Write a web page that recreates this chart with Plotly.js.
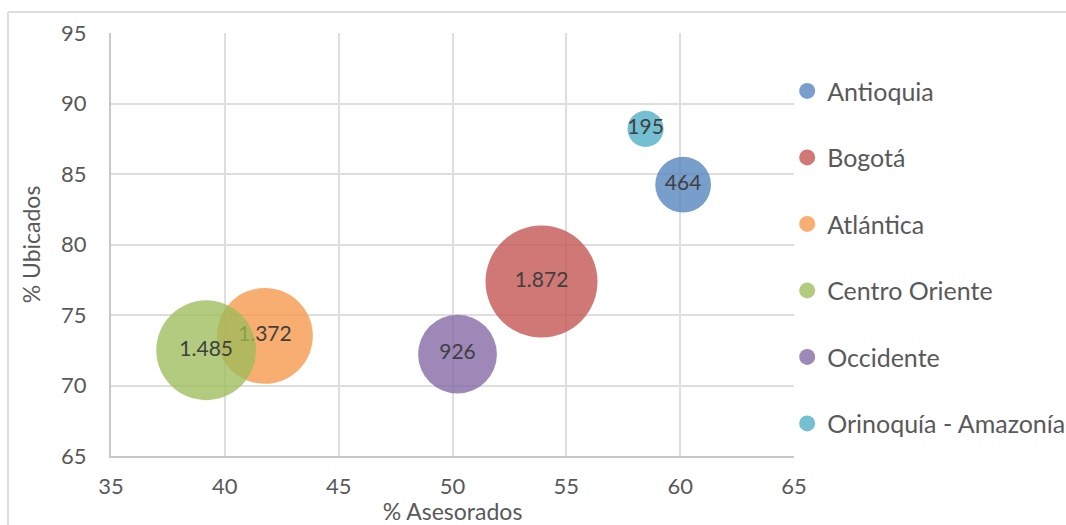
<!DOCTYPE html>
<html>
<head>
<meta charset="utf-8">
<script src="https://cdn.plot.ly/plotly-3.0.1.min.js"></script>
<style>html,body{margin:0;padding:0;background:#fff;}#chart{width:1066px;height:525px;}</style>
</head>
<body>
<div id="chart"></div>
<script>
// Data
const regions = ["Antioquia", "Bogotá", "Atlántica", "Centro Oriente", "Occidente", "Orinoquía - Amazonía"];
const asesorados = [60.13, 53.91, 41.76, 39.18, 50.22, 58.48];   // % Asesorados (x)
const ubicados   = [84.24, 77.37, 73.52, 72.50, 72.22, 88.20];   // % Ubicados (y)
const personas   = [464, 1872, 1372, 1485, 926, 195];            // bubble size
const colors = ["#4F81BD", "#C0504D", "#F79646", "#9BBB59", "#8064A2", "#4BACC6"];
const xTicks = [35, 40, 45, 50, 55, 60, 65];
const yTicks = [65, 70, 75, 80, 85, 90, 95];

function fmt(v) { return String(v).replace(/\B(?=(\d{3})+(?!\d))/g, "."); }

const FONT = "Lato, 'Open Sans', sans-serif";
const maxR = 56;
const sizeref = Math.max(...personas) / (2 * maxR * maxR);

const traces = regions.map((r, i) => ({
  type: "scatter",
  mode: "markers+text",
  name: r,
  legendgroup: "g" + i,
  x: [asesorados[i]],
  y: [ubicados[i]],
  text: [fmt(personas[i])],
  textposition: "middle center",
  textfont: { family: FONT, size: 21, color: "#404040" },
  marker: {
    size: [personas[i]],
    sizemode: "area",
    sizeref: sizeref,
    color: colors[i],
    opacity: 0.77,
    line: { width: 0 }
  },
  hoverinfo: "name+x+y"
}));

const layout = {
  width: 1066,
  height: 525,
  margin: { l: 111, r: 272, t: 33, b: 69, autoexpand: false },
  paper_bgcolor: "#ffffff",
  plot_bgcolor: "#ffffff",
  font: { family: FONT, color: "#595959" },
  showlegend: true,
  legend: {
    x: 0.99, xanchor: "left",
    y: 0.47, yanchor: "middle",
    font: { family: FONT, size: 25, color: "#595959" },
    tracegroupgap: 31,
    traceorder: "grouped",
    bgcolor: "rgba(0,0,0,0)"
  },
  xaxis: {
    range: [35, 65],
    tickvals: xTicks,
    ticktext: xTicks.map(String),
    showgrid: true, gridcolor: "#dedede", gridwidth: 2,
    showline: true, linecolor: "#c8c8c8", linewidth: 2,
    zeroline: false,
    ticks: "outside", ticklen: 10, tickcolor: "rgba(0,0,0,0)",
    tickfont: { family: FONT, size: 22, color: "#595959" },
    title: { text: "% Asesorados", font: { family: FONT, size: 23, color: "#595959" }, standoff: 2 }
  },
  yaxis: {
    range: [65, 95],
    tickvals: yTicks,
    ticktext: yTicks.map(String),
    showgrid: true, gridcolor: "#dedede", gridwidth: 2,
    showline: true, linecolor: "#c8c8c8", linewidth: 2,
    zeroline: false,
    ticks: "outside", ticklen: 18, tickcolor: "rgba(0,0,0,0)",
    tickfont: { family: FONT, size: 22, color: "#595959" },
    title: { text: "% Ubicados", font: { family: FONT, size: 23, color: "#595959" }, standoff: 14 }
  },
  shapes: [
    { type: "line", xref: "paper", yref: "paper", x0: -0.1508, x1: -0.1508, y0: 1.0496, y1: -0.2, line: { color: "#dedede", width: 2 } },
    { type: "line", xref: "paper", yref: "paper", x0: -0.1508, x1: 1.5, y0: 1.0496, y1: 1.0496, line: { color: "#dedede", width: 2 } }
  ]
};

Plotly.newPlot("chart", traces, layout, { displayModeBar: false, staticPlot: true });
</script>
</body>
</html>
